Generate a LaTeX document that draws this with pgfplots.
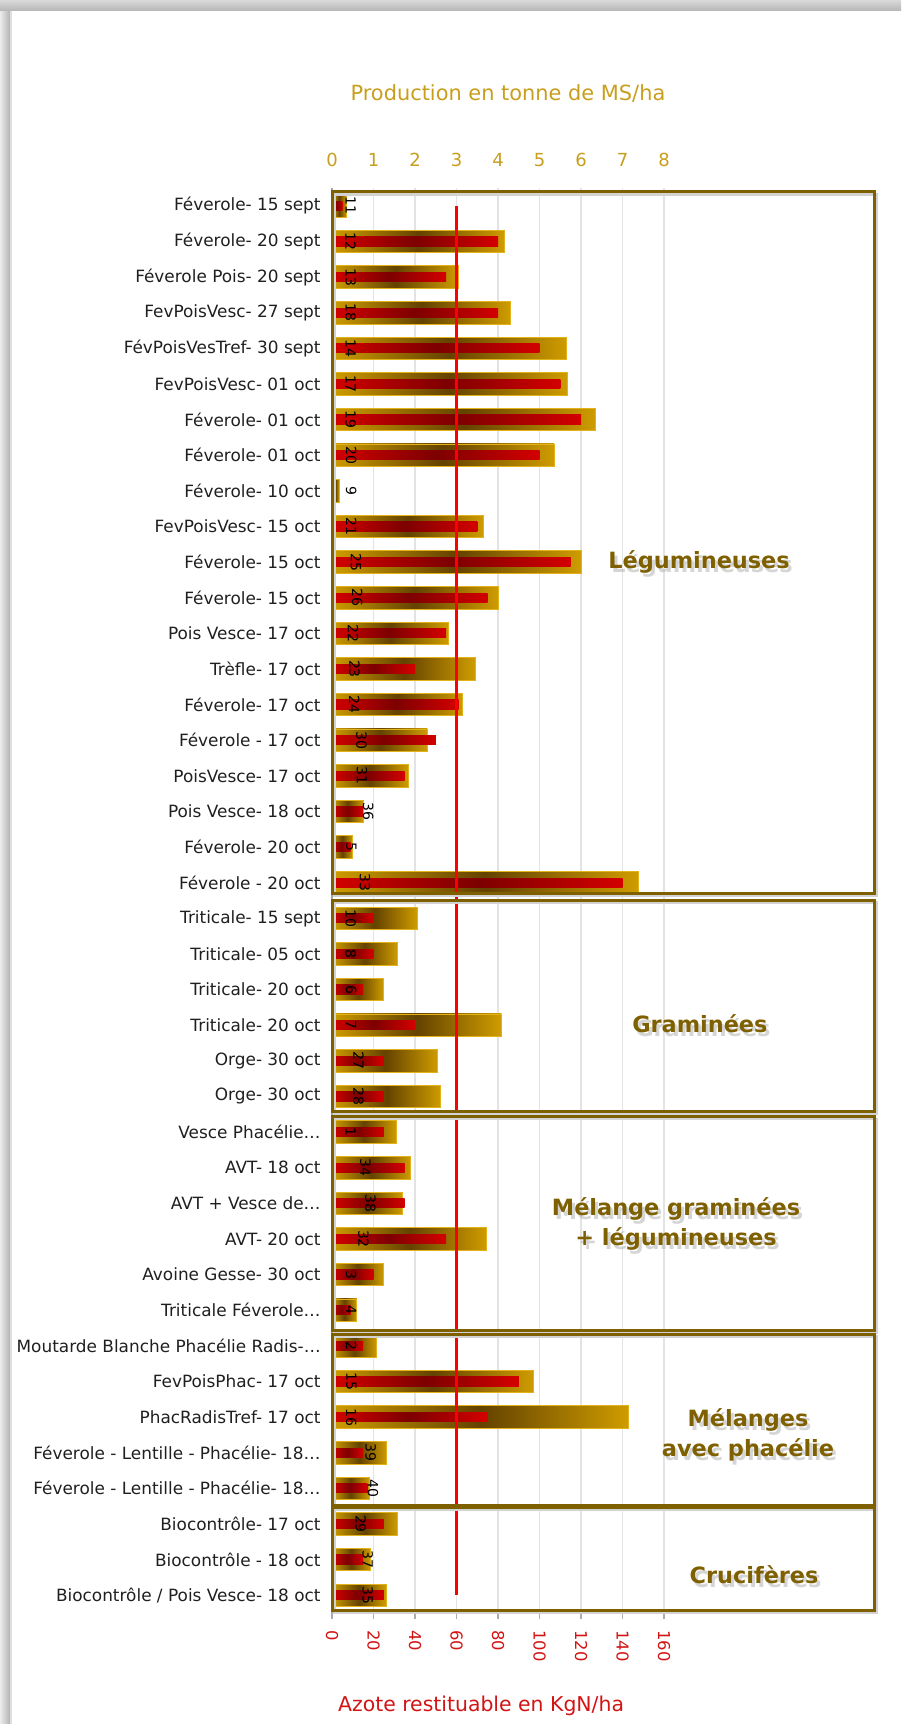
\documentclass[border=0pt]{standalone}
\usepackage{pgfplots}
\pgfplotsset{compat=1.18}
\usepackage{pgfplotstable}
\usepackage{fontspec}
\setmainfont{DejaVu Sans}

\definecolor{goldbar}{RGB}{206,156,0}
\definecolor{golddark}{RGB}{100,66,0}
\definecolor{goldedge}{RGB}{225,178,25}
\definecolor{goldtext}{RGB}{200,158,30}
\definecolor{redbar}{RGB}{212,0,0}
\definecolor{reddark}{RGB}{125,0,0}
\definecolor{redtext}{RGB}{210,20,20}
\definecolor{olivebox}{RGB}{127,96,0}

\pgfplotstableread{
row prod azote lab lpos
1  0.35 5   11 9
2  4.15 80  12 9
3  3.05 55  13 9
4  4.30 80  18 9
5  5.65 100 14 9
6  5.67 110 17 9
7  6.35 120 19 9
8  5.35 100 20 9.3
9  0.17 0   9  9.3
10 3.65 70  21 9.3
11 6.00 115 25 11.6
12 4.00 75  26 12.1
13 2.80 55  22 10.2
14 3.45 40  23 10.8
15 3.15 61  24 10.8
16 2.30 50  30 14.2
17 1.83 35  31 14.4
18 0.75 15  36 17.4
19 0.50 9   5  9.3
20 7.38 140 33 15.9
21 2.05 20  10 9
22 1.58 20  8  9
23 1.25 15  6  9.3
24 4.08 40  7  9.3
25 2.55 25  27 12.8
26 2.62 25  28 12.8
27 1.55 25  1  9
28 1.90 35  34 16.1
29 1.70 35  38 18.5
30 3.73 55  32 15.2
31 1.25 20  3  9.3
32 0.60 9   4  9.3
33 1.08 15  2  9.3
34 4.86 90  15 9.3
35 7.15 75  16 9.3
36 1.32 15  39 18.6
37 0.90 17  40 19.7
38 1.58 25  29 13.8
39 0.93 15  37 17.2
40 1.30 25  35 17.2
}\data

\pgfplotsset{
  commonaxis/.style={
    at={(166pt,-806.5pt)}, anchor=south west,
    scale only axis, width=166pt, height=712.5pt,
    ymin=0.5, ymax=40.5, y dir=reverse, clip=false,
    /pgf/number format/assume math mode=true,
  }
}

\newcommand\groupbox[2]{%
  \draw[gray!35, line width=1.2pt] ([xshift=1.2pt,yshift=-1.2pt]axis cs:0,#1) rectangle ([xshift=1.2pt,yshift=-1.2pt]axis cs:261.5,#2);
  \draw[olivebox, line width=1.5pt] (axis cs:0,#1) rectangle (axis cs:261.5,#2);
}
\newcommand\grouplabel[3]{%
  \node[grpsh] at (axis cs:#1,#2) {#3};
  \node[grp]   at (axis cs:#1,#2) {#3};
}
\tikzset{grp/.style={font=\fontsize{11.2}{15}\selectfont\bfseries, align=center, text=olivebox},
         grpsh/.style={font=\fontsize{11.2}{15}\selectfont\bfseries, align=center, text=gray!55, opacity=0.6, xshift=1.5pt, yshift=-2pt}}

\begin{document}
\begin{tikzpicture}
\path[use as bounding box] (0,0) rectangle (450.5pt,-862pt);
% picture frame shadow
\shade[left color=gray!15, right color=gray!60] (0,0) rectangle (5pt,-862pt);
\fill[gray!25] (5pt,0) rectangle (6pt,-862pt);
\shade[top color=gray!30, bottom color=gray!55] (0,0) rectangle (450.5pt,-5pt);

% ---------- production axis (top) ----------
\begin{axis}[commonaxis,
  xmin=0, xmax=8, xtick={0,1,...,8},
  axis x line*=top, axis y line*=left,
  axis line style={-},
  x axis line style={draw=none},
  y axis line style={draw=gray!70, line width=0.8pt},
  xticklabel pos=upper,
  major tick length=0pt, tick style={draw=none},
  xmajorgrids, grid style={gray!22, line width=0.6pt},
  xticklabel style={text=goldtext, font=\fontsize{9}{10.8}\selectfont, anchor=base, inner sep=0pt, yshift=10.9pt},
  xlabel={Production en tonne de MS/ha},
  xlabel style={at={(axis description cs:0.53,1.0663)}, anchor=center, text=goldtext, font=\fontsize{10.45}{12}\selectfont},
  ytick={1,...,40},
  yticklabels={
    {Féverole- 15 sept},{Féverole- 20 sept},{Féverole Pois- 20 sept},{FevPoisVesc- 27 sept},
    {FévPoisVesTref- 30 sept},{FevPoisVesc- 01 oct},{Féverole- 01 oct},{Féverole- 01 oct},
    {Féverole- 10 oct},{FevPoisVesc- 15 oct},{Féverole- 15 oct},{Féverole- 15 oct},
    {Pois Vesce- 17 oct},{Trèfle- 17 oct},{Féverole- 17 oct},{Féverole - 17 oct},
    {PoisVesce- 17 oct},{Pois Vesce- 18 oct},{Féverole- 20 oct},{Féverole - 20 oct},
    {Triticale- 15 sept},{Triticale- 05 oct},{Triticale- 20 oct},{Triticale- 20 oct},
    {Orge- 30 oct},{Orge- 30 oct},{Vesce Phacélie…},{AVT- 18 oct},
    {AVT + Vesce de…},{AVT- 20 oct},{Avoine Gesse- 30 oct},{Triticale Féverole…},
    {Moutarde Blanche Phacélie Radis-…},{FevPoisPhac- 17 oct},{PhacRadisTref- 17 oct},{Féverole - Lentille - Phacélie- 18…},
    {Féverole - Lentille - Phacélie- 18…},{Biocontrôle- 17 oct},{Biocontrôle - 18 oct},{Biocontrôle / Pois Vesce- 18 oct}},
  yticklabel style={font=\fontsize{8.45}{10}\selectfont, text=black!88, inner sep=0pt, anchor=east, xshift=-5.5pt},
]
% one path per bar so that each bar gets its own gradient
\pgfplotsinvokeforeach{1,...,40}{
  \addplot[xbar, bar width=0.63, bar shift=0pt, draw=goldedge, line width=0.4pt,
    left color=goldbar, right color=goldbar, middle color=golddark,
    restrict y to domain=#1:#1]
    table[x=prod, y=row]{\data};
}
\end{axis}

% ---------- nitrogen axis (bottom) ----------
\begin{axis}[commonaxis,
  xmin=0, xmax=160, xtick={0,20,...,160},
  axis x line*=bottom, axis y line=none,
  axis line style={-},
  x axis line style={draw=gray!65, line width=0.8pt},
  tick align=outside, major tick length=3pt, tick style={draw=gray!65, line width=0.6pt},
  ytick=\empty,
  xticklabel style={yshift=-5.5pt, rotate=-90, anchor=west, inner sep=0pt, text=redtext, font=\fontsize{8.2}{9.6}\selectfont},
  xlabel={Azote restituable en KgN/ha},
  xlabel style={at={(axis description cs:0.449,-0.0653)}, anchor=center, text=redtext, font=\fontsize{10.2}{12}\selectfont},
]
\pgfplotsinvokeforeach{1,...,40}{
  \addplot[xbar, bar width=0.26, bar shift=0pt, draw=none,
    left color=redbar, right color=redbar, middle color=reddark,
    restrict y to domain=#1:#1]
    table[x=azote, y=row]{\data};
}
\end{axis}

% ---------- overlay: threshold line, data labels, group boxes ----------
\begin{axis}[commonaxis, xmin=0, xmax=160, hide axis]
\addplot[red, line width=1.1pt] coordinates {(60,1) (60,40)};

\addplot[draw=none, mark=none, nodes near coords, point meta=explicit symbolic,
  every node near coord/.append style={anchor=center, rotate=-90, inner sep=0pt,
    font=\fontsize{7}{8}\selectfont, text=black}]
  table[x=lpos, y=row, meta=lab]{\data};

% group boxes
\groupbox{0.61}{20.29}
\groupbox{20.49}{26.41}
\groupbox{26.57}{32.56}
\groupbox{32.67}{37.47}
\groupbox{37.53}{40.42}

% group labels
\grouplabel{176.9}{11.0}{Légumineuses}
\grouplabel{177.3}{23.97}{Graminées}
\grouplabel{165.8}{29.58}{Mélange graminées\\+ légumineuses}
\grouplabel{200.5}{35.5}{Mélanges\\avec phacélie}
\grouplabel{203.4}{39.43}{Crucifères}
\end{axis}
\end{tikzpicture}
\end{document}
